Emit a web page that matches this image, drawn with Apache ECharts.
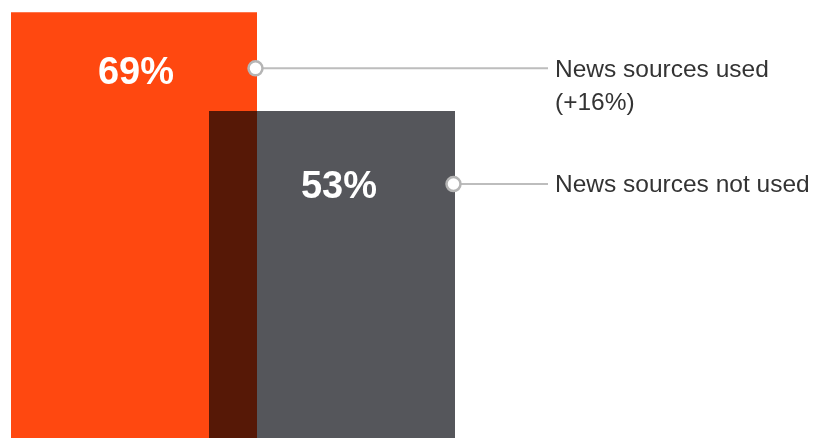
<!DOCTYPE html>
<html>
<head>
<meta charset="utf-8">
<script src="https://cdn.jsdelivr.net/npm/echarts@6/dist/echarts.min.js"></script>
<style>
html,body{margin:0;padding:0;background:#fff;}
#chart{width:815px;height:438px;}
</style>
</head>
<body>
<div id="chart"></div>
<script>
// ---- data ----
const categories = ['News sources used', 'News sources not used'];
const values = [69, 53];
const valueLabels = ['69%', '53%'];
const calloutLabels = ['News sources used\n(+16%)', 'News sources not used'];

// ---- styles / layout ----
const barColors = ['#FF4810', '#55565B'];
const overlapColor = '#561806';
const BAR_W = 246, OVERLAP = 48;
const labelOffsetY = [61, 76];
const labelOffsetX = [2, 7];
const circleOffsetY = [56, 73];
const LINE_END_X = 548, TEXT_X = 555;

const chart = echarts.init(document.getElementById('chart'), null, {renderer: 'canvas'});

const seriesData = values.map((v, i) => [0, v, i]);

function renderItem(params, api) {
  const i = api.value(2);
  const v = api.value(1);
  const center = api.coord([0, 0]);
  const base = center[1];
  const total = BAR_W * 2 - OVERLAP;
  const left = center[0] - total / 2;
  const x = left + i * (BAR_W - OVERLAP);
  const top = api.coord([0, v])[1];
  const children = [];
  children.push({
    type: 'rect',
    shape: {x: x, y: top, width: BAR_W, height: base - top},
    style: {fill: barColors[i]}
  });
  if (i === 1) {
    const minV = Math.min(values[0], values[1]);
    const oTop = api.coord([0, minV])[1];
    children.push({
      type: 'rect',
      shape: {x: x, y: oTop, width: OVERLAP, height: base - oTop},
      style: {fill: overlapColor}
    });
  }
  // value label
  children.push({
    type: 'text',
    style: {
      x: x + BAR_W / 2 + labelOffsetX[i],
      y: top + labelOffsetY[i],
      text: valueLabels[i],
      fill: '#ffffff',
      font: 'bold 38px "Liberation Sans", Arial, sans-serif',
      align: 'center',
      verticalAlign: 'middle'
    }
  });
  // callout
  const cy = top + circleOffsetY[i];
  const cx = x + BAR_W - 1.5;
  children.push({
    type: 'line',
    shape: {x1: cx, y1: cy, x2: LINE_END_X, y2: cy},
    style: {stroke: '#bdbdbd', lineWidth: 2}
  });
  children.push({
    type: 'circle',
    shape: {cx: cx, cy: cy, r: 7},
    style: {fill: '#ffffff', stroke: '#b5b5b5', lineWidth: 2.5}
  });
  children.push({
    type: 'text',
    style: {
      x: TEXT_X,
      y: cy + 1.5 - 16.5,
      text: calloutLabels[i],
      fill: '#333333',
      font: '24.5px "Liberation Sans", Arial, sans-serif',
      lineHeight: 33,
      align: 'left',
      verticalAlign: 'top'
    }
  });
  return {type: 'group', children: children};
}

chart.setOption({
  animation: false,
  backgroundColor: '#ffffff',
  grid: {left: 0, top: 0, bottom: 0, width: 466},
  xAxis: {type: 'category', data: [''], show: false},
  yAxis: {type: 'value', min: 0, max: 71, show: false},
  series: [{
    type: 'custom',
    name: categories.join(' / '),
    renderItem: renderItem,
    data: seriesData,
    clip: false
  }]
});
</script>
</body>
</html>
